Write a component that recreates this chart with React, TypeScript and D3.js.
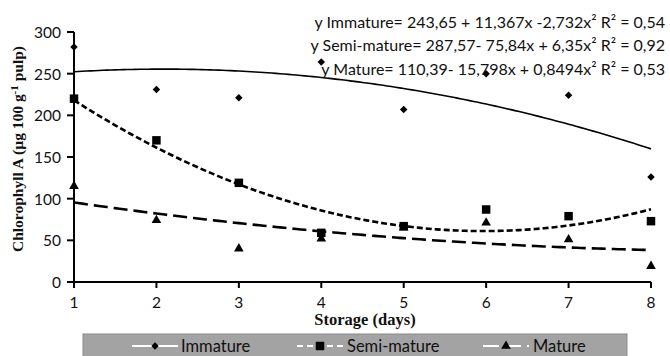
import * as d3 from "d3";

const days = [1, 2, 3, 4, 5, 6, 7, 8];
const immature = [282, 231, 221, 264, 207, 250, 224, 126];
const semiMature = [220, 170, 119, 59, 67, 87, 79, 73];
const mature = [115, 74, 40, 52, 65, 71, 51, 19];

// printed regression coefficients: a + b x + c x^2
const immatureFit = [243.65, 11.367, -2.732];
const semiFit = [287.57, -75.84, 6.35];
const matureFit = [110.39, -15.798, 0.8494];

const yTicks = [0, 50, 100, 150, 200, 250, 300];
const equations = [
  "y Immature=  243,65 + 11,367x -2,732x\u00B2 R\u00B2 = 0,54",
  "y Semi-mature=  287,57- 75,84x + 6,35x\u00B2 R\u00B2 = 0,92",
  "y Mature= 110,39- 15,798x + 0,8494x\u00B2  R\u00B2 = 0,53",
];

const W = 670;
const H = 356;
const sans = "Lato, 'Open Sans', sans-serif";
const serif = "'Liberation Serif', 'DejaVu Serif', serif";

const series = [
  { name: "Immature", values: immature, fit: immatureFit, symbol: "diamond", dash: "", width: 1.6 },
  { name: "Semi-mature", values: semiMature, fit: semiFit, symbol: "square", dash: "6,3", width: 2.6 },
  { name: "Mature", values: mature, fit: matureFit, symbol: "triangle", dash: "14,6", width: 2.6 },
];

function markerPath(kind: string) {
  if (kind === "square") return d3.symbol(d3.symbolSquare, 72)() ?? "";
  if (kind === "triangle") return d3.symbol(d3.symbolTriangle, 40)() ?? "";
  return d3.symbol(d3.symbolSquare, 28)() ?? "";
}

export default function App() {
  const x = d3.scaleLinear().domain([1, 8]).range([74, 651]);
  const y = d3.scaleLinear().domain([0, 300]).range([282, 32]);
  const samples = d3.range(1, 8.001, 0.05);

  const fitLine = (c: number[]) =>
    d3
      .line<number>()
      .x((d) => x(d))
      .y((d) => y(c[0] + c[1] * d + c[2] * d * d))(samples) ?? "";

  const legendItems = [
    { lx: 132, tx: 181 },
    { lx: 297, tx: 347 },
    { lx: 483, tx: 533 },
  ];

  return (
    <svg width={W} height={H} style={{ position: "absolute", left: 0, top: 0 }}>
      <rect width={W} height={H} fill="#fff" />

      {/* axes */}
      <line x1={x(1)} x2={x(1)} y1={y(300)} y2={y(0)} stroke="#000" strokeWidth={2} />
      <line x1={x(1)} x2={x(8)} y1={y(0)} y2={y(0)} stroke="#000" strokeWidth={2} />
      {yTicks.map((t) => (
        <g key={t}>
          <line x1={x(1) - 7} x2={x(1)} y1={y(t)} y2={y(t)} stroke="#000" strokeWidth={2} />
          <text x={61} y={y(t)} textAnchor="end" dominantBaseline="central" fontSize={15.5} fontFamily={sans} fill="#111">
            {t}
          </text>
        </g>
      ))}
      {days.map((d) => (
        <g key={d}>
          <line x1={x(d)} x2={x(d)} y1={y(0)} y2={y(0) + 6} stroke="#000" strokeWidth={2} />
          <text x={x(d)} y={302} textAnchor="middle" dominantBaseline="central" fontSize={15.5} fontFamily={sans} fill="#111">
            {d}
          </text>
        </g>
      ))}

      <text x={365} y={325} textAnchor="middle" fontSize={16.5} fontWeight={700} fontFamily={serif} fill="#111">
        Storage (days)
      </text>
      <text
        transform="translate(23,149) rotate(-90)"
        textAnchor="middle"
        fontSize={15.5}
        fontWeight={700}
        fontFamily={serif}
        fill="#111"
      >
        Chlorophyll A (µg 100 g<tspan dy={-5} fontSize={11}>-1</tspan>
        <tspan dy={5}> pulp)</tspan>
      </text>

      {/* trend lines */}
      {series.map((s) => (
        <path key={s.name} d={fitLine(s.fit)} fill="none" stroke="#000" strokeWidth={s.width} strokeDasharray={s.dash} />
      ))}

      {/* points */}
      {series.map((s) =>
        s.values.map((v, i) => (
          <path
            key={s.name + i}
            d={markerPath(s.symbol)}
            transform={`translate(${x(days[i])},${y(v)})${s.symbol === "diamond" ? " rotate(45)" : ""}`}
            fill="#000"
          />
        ))
      )}

      {/* equations */}
      {equations.map((e, i) => (
        <text key={i} x={665} y={21 + i * 23.5} textAnchor="end" dominantBaseline="central" fontSize={16} fontFamily={sans} fill="#111">
          {e}
        </text>
      ))}

      {/* legend */}
      <rect x={83} y={334} width={544} height={24} fill="#a3a3a3" stroke="#8a8a8a" />
      {series.map((s, i) => {
        const it = legendItems[i];
        const cx = it.lx + 23;
        return (
          <g key={s.name}>
            <line x1={it.lx} x2={it.lx + 46} y1={346} y2={346} stroke="#fff" strokeWidth={2} strokeDasharray={s.dash ? (i === 1 ? "6,4" : "16,6") : ""} />
            <path d={markerPath(s.symbol)} transform={`translate(${cx},346)${s.symbol === "diamond" ? " rotate(45)" : ""}`} fill="#000" />
            <text x={it.tx} y={346} dominantBaseline="central" fontSize={16.5} fontFamily={sans} fill="#111">
              {s.name}
            </text>
          </g>
        );
      })}
    </svg>
  );
}
